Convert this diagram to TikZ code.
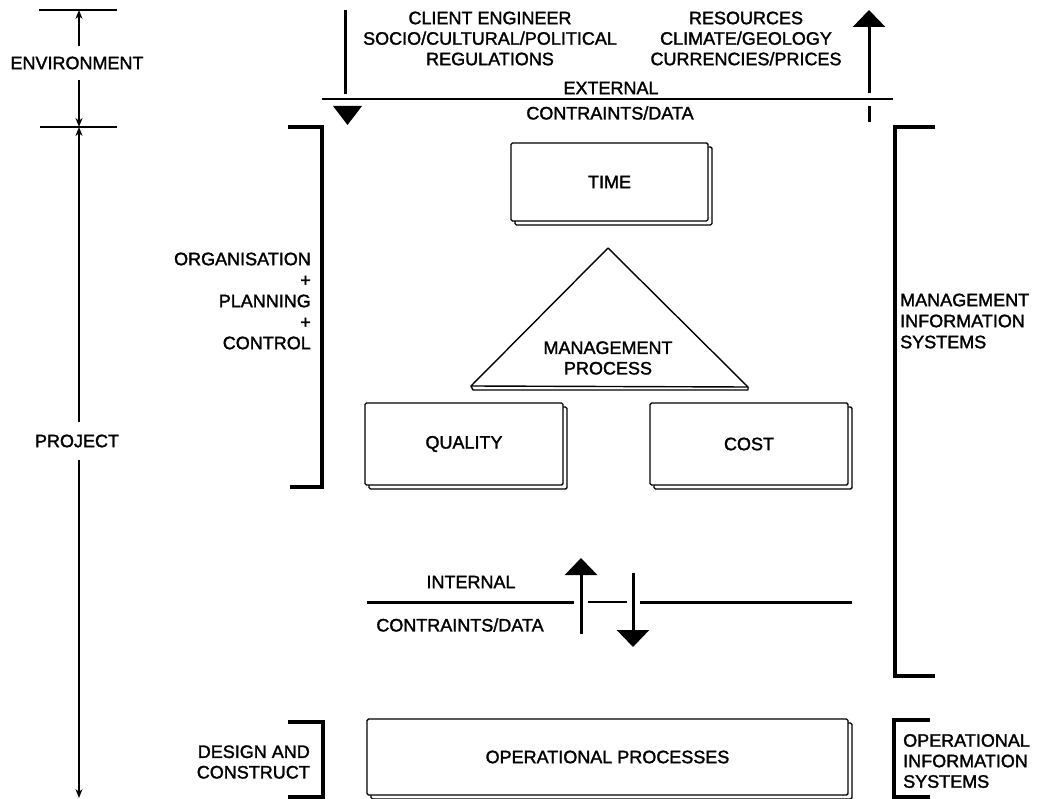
\documentclass[tikz,border=0pt]{standalone}
\usepackage{fontspec}
\setmainfont{Liberation Sans}[RawFeature={embolden=1.7}]
\usetikzlibrary{arrows.meta,shadows}

\begin{document}
\begin{tikzpicture}[x=1pt,y=-1pt,
  font=\fontsize{18}{20.5}\selectfont,
  lbl/.style={inner sep=0pt, align=center},
  box3d/.style={draw, line width=1.4pt, fill=white, rounded corners=1.5pt, inner sep=0pt,
    copy shadow={shadow xshift=4pt, shadow yshift=-4pt, draw=black, fill=white, line width=1.4pt}},
  dimline/.style={line width=1.8pt},
  dimtip/.style={-{Stealth[width=7pt,length=9pt]}},
  bracket/.style={line width=3.2pt},
  thick3/.style={line width=3pt},
  bigtip/.style={-{Triangle[width=32pt,length=17pt]}},
]
\useasboundingbox (0,0) rectangle (1046,799);

% ---------- dimension line (left) ----------
\coordinate (dtop) at (79,10);
\coordinate (dmid) at (79,127);
\coordinate (dbot) at (79,798);
\draw[dimline] (39,10) -- (117,10);
\draw[dimline] (40,127) -- (117,127);
\node[lbl] (env) at (77,63) {ENVIRONMENT};
\node[lbl] (proj) at (77,441) {PROJECT};
\draw[dimline,dimtip] (env.north -| dtop) ++(0,-10) -- (dtop);
\draw[dimline,dimtip] (env.south -| dtop) ++(0,10) -- (dmid);
\draw[dimline,dimtip] (proj.north -| dtop) ++(0,-12) -- (dmid);
\draw[dimline,dimtip] (proj.south -| dtop) ++(0,12) -- (dbot);

% ---------- external constraints ----------
\node[lbl] (client) at (490,38.5) {CLIENT ENGINEER\\SOCIO/CULTURAL/POLITICAL\\REGULATIONS};
\node[lbl] (res) at (746,38.5) {RESOURCES\\CLIMATE/GEOLOGY\\CURRENCIES/PRICES};
\node[lbl] (ext) at (611,88) {EXTERNAL};
\node[lbl] (extcd) at (610,113) {CONTRAINTS/DATA};
\coordinate (hl) at (322,99);
\coordinate (hr) at (893,99);
\draw[line width=2.6pt] (hl) -- (hr);
% left downward arrow (head detached below the line)
\coordinate (la1) at (345,10);
\coordinate (la2) at (345,94);
\draw[thick3] (la1) -- (la2);
\fill (333,106) -- (362,106) -- (347.5,125) -- cycle;
% right upward arrow
\coordinate (ra1) at (869,93);
\coordinate (ra2) at (869,10);
\draw[thick3,bigtip] (ra1) -- (ra2);
\coordinate (rs1) at (869,106);
\coordinate (rs2) at (869,122);
\draw[thick3] (rs1) -- (rs2);

% ---------- left bracket: organisation ----------
\draw[bracket] (288,127) -- (322,127) -- (322,487) -- (290,487);
\node[lbl, align=right, anchor=east, font=\fontsize{18}{21}\selectfont] (org) at (311,301)
  {ORGANISATION\\+\\PLANNING\\+\\CONTROL};

% ---------- right bracket: MIS ----------
\draw[bracket] (935,127) -- (895,127) -- (895,676) -- (935,676);
\node[lbl, align=left, anchor=west, font=\fontsize{18}{21}\selectfont] (mis) at (900,321)
  {MANAGEMENT\\INFORMATION\\SYSTEMS};

% ---------- TIME ----------
\node[box3d, minimum width=197pt, minimum height=78pt] (time) at (609.5,182) {TIME};

% ---------- triangle ----------
\coordinate (tapex) at (608,248);
\coordinate (tl) at (471,386);
\coordinate (tr) at (748,387);
\draw[line width=1.4pt, line join=round] (tl) -- (tapex) -- (tr) -- cycle;
\draw[line width=1.4pt, line join=round] (tl) -- (473,390) -- (748,390) -- (tr);
\node[lbl] (mp) at (608,358) {MANAGEMENT\\PROCESS};

% ---------- QUALITY / COST ----------
\node[box3d, minimum width=198pt, minimum height=82pt] (quality) at (464,444) {QUALITY};
\node[box3d, minimum width=198pt, minimum height=82pt] (cost) at (749,444) {COST};

% ---------- internal constraints ----------
\coordinate (il1) at (367,602);
\coordinate (il2) at (574,602);
\coordinate (im1) at (588,602);
\coordinate (im2) at (627,602);
\coordinate (ir1) at (640,602);
\coordinate (ir2) at (852,602);
\draw[thick3] (il1) -- (il2);
\draw[line width=2.4pt] (im1) -- (im2);
\draw[thick3] (ir1) -- (ir2);
\node[lbl] (int) at (471,582) {INTERNAL};
\node[lbl] (intcd) at (460,625) {CONTRAINTS/DATA};
\coordinate (ua1) at (581,634);
\coordinate (ua2) at (581,558);
\draw[thick3,bigtip] (ua1) -- (ua2);
\coordinate (da1) at (633,573);
\coordinate (da2) at (633,647);
\draw[thick3,bigtip] (da1) -- (da2);

% ---------- operational level ----------
\draw[bracket] (288,722) -- (323,722) -- (323,797) -- (288,797);
\node[lbl, align=right, anchor=east] (dc) at (310,762) {DESIGN AND\\CONSTRUCT};
\node[box3d, minimum width=481pt, minimum height=76pt] (op) at (607.5,757) {OPERATIONAL PROCESSES};
\draw[bracket] (930,720) -- (894,720) -- (894,797) -- (930,797);
\node[lbl, align=left, anchor=west] (ois) at (903,761) {OPERATIONAL\\INFORMATION\\SYSTEMS};
\end{tikzpicture}
\end{document}
